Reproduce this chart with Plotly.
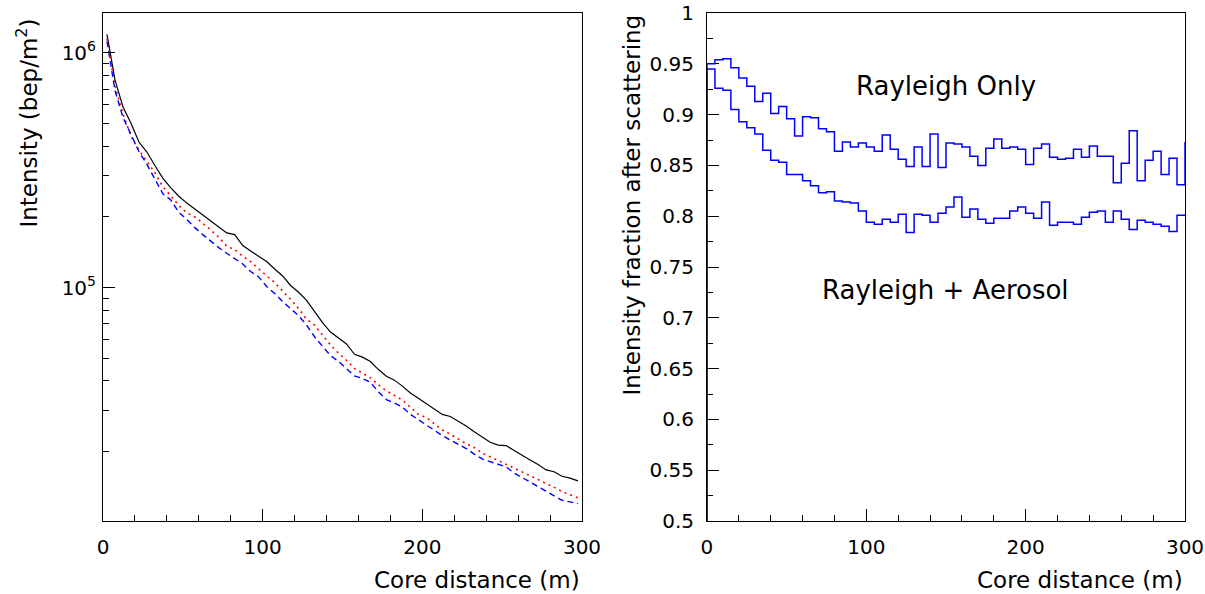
import numpy as np
import plotly.graph_objects as go

# ---------------- data ----------------
# Left panel: lateral intensity profile, 5 m bins (bin centres)
core_distance_m = np.arange(2.5, 300, 5)

intensity_total = [
    1.20e6, 7.67e5, 5.89e5, 5.01e5, 4.17e5, 3.78e5, 3.31e5, 2.92e5, 2.66e5, 2.45e5,
    2.29e5, 2.16e5, 2.04e5, 1.91e5, 1.80e5, 1.71e5, 1.68e5, 1.51e5, 1.43e5, 1.36e5,
    1.29e5, 1.20e5, 1.12e5, 1.02e5, 9.55e4, 8.81e4, 7.85e4, 7.08e4, 6.46e4, 6.10e4,
    5.75e4, 5.19e4, 5.05e4, 4.84e4, 4.47e4, 4.19e4, 4.03e4, 3.80e4, 3.55e4, 3.37e4,
    3.20e4, 3.02e4, 2.88e4, 2.82e4, 2.70e4, 2.57e4, 2.43e4, 2.30e4, 2.19e4, 2.13e4,
    2.12e4, 2.02e4, 1.92e4, 1.84e4, 1.76e4, 1.67e4, 1.64e4, 1.57e4, 1.54e4, 1.50e4,
]
intensity_rayleigh = [
    1.15e6, 7.24e5, 5.50e5, 4.42e5, 3.85e5, 3.47e5, 3.09e5, 2.69e5, 2.45e5, 2.24e5,
    2.08e5, 2.00e5, 1.88e5, 1.76e5, 1.64e5, 1.50e5, 1.45e5, 1.36e5, 1.29e5, 1.20e5,
    1.12e5, 1.05e5, 9.66e4, 8.91e4, 8.13e4, 7.33e4, 6.92e4, 6.31e4, 5.69e4, 5.25e4,
    4.90e4, 4.52e4, 4.32e4, 4.12e4, 3.85e4, 3.63e4, 3.47e4, 3.31e4, 3.09e4, 2.88e4,
    2.79e4, 2.63e4, 2.47e4, 2.37e4, 2.26e4, 2.16e4, 2.08e4, 1.97e4, 1.90e4, 1.83e4,
    1.77e4, 1.71e4, 1.64e4, 1.58e4, 1.52e4, 1.46e4, 1.41e4, 1.35e4, 1.31e4, 1.27e4,
]
intensity_aerosol = [
    1.12e6, 6.92e5, 5.31e5, 4.52e5, 3.80e5, 3.35e5, 2.92e5, 2.51e5, 2.36e5, 2.09e5,
    1.95e5, 1.80e5, 1.68e5, 1.57e5, 1.48e5, 1.40e5, 1.33e5, 1.26e5, 1.17e5, 1.11e5,
    1.01e5, 9.44e4, 8.71e4, 8.13e4, 7.59e4, 6.92e4, 6.17e4, 5.62e4, 5.13e4, 4.84e4,
    4.52e4, 4.20e4, 4.10e4, 3.94e4, 3.59e4, 3.33e4, 3.22e4, 3.09e4, 2.88e4, 2.73e4,
    2.60e4, 2.45e4, 2.34e4, 2.24e4, 2.14e4, 2.06e4, 1.95e4, 1.86e4, 1.81e4, 1.76e4,
    1.72e4, 1.62e4, 1.55e4, 1.48e4, 1.42e4, 1.35e4, 1.29e4, 1.24e4, 1.22e4, 1.20e4,
]

# Right panel: fraction histograms, 5 m bins (bin lower edges), last entry = next bin
bin_low_edges = list(range(0, 305, 5))
fraction_rayleigh_only = [
    0.950, 0.954, 0.955, 0.946, 0.936, 0.928, 0.913, 0.921, 0.901, 0.908,
    0.896, 0.879, 0.898, 0.897, 0.886, 0.883, 0.864, 0.873, 0.868, 0.872,
    0.868, 0.864, 0.880, 0.866, 0.856, 0.849, 0.868, 0.849, 0.881, 0.848,
    0.872, 0.871, 0.868, 0.859, 0.850, 0.867, 0.876, 0.867, 0.868, 0.866,
    0.851, 0.867, 0.871, 0.858, 0.856, 0.857, 0.866, 0.858, 0.869, 0.859,
    0.859, 0.833, 0.852, 0.884, 0.835, 0.855, 0.864, 0.841, 0.857, 0.831,
    0.873,
]
fraction_rayleigh_aerosol = [
    0.945, 0.926, 0.924, 0.905, 0.893, 0.887, 0.881, 0.865, 0.855, 0.853,
    0.841, 0.841, 0.835, 0.830, 0.823, 0.824, 0.815, 0.814, 0.813, 0.805,
    0.794, 0.792, 0.797, 0.794, 0.802, 0.784, 0.802, 0.801, 0.794, 0.803,
    0.809, 0.819, 0.799, 0.807, 0.797, 0.793, 0.798, 0.798, 0.805, 0.809,
    0.803, 0.798, 0.814, 0.791, 0.794, 0.794, 0.792, 0.799, 0.804, 0.805,
    0.794, 0.805, 0.797, 0.787, 0.796, 0.794, 0.792, 0.790, 0.785, 0.801,
    0.801,
]

x_tick_vals = [0, 100, 200, 300]
y_log_tick_vals = [1e5, 1e6]
y_log_tick_text = ["10<sup>5</sup>", "10<sup>6</sup>"]
y_frac_min, y_frac_max = 0.5, 1.0

# ---------------- figure ----------------
FONT = "DejaVu Sans"
fig = go.Figure()

fig.add_trace(go.Scatter(x=core_distance_m, y=intensity_total, mode="lines",
                         line=dict(color="black", width=1.2),
                         xaxis="x", yaxis="y", showlegend=False))
fig.add_trace(go.Scatter(x=core_distance_m, y=intensity_rayleigh, mode="lines",
                         line=dict(color="#ff0000", width=1.6, dash="2px,4px"),
                         xaxis="x", yaxis="y", showlegend=False))
fig.add_trace(go.Scatter(x=core_distance_m, y=intensity_aerosol, mode="lines",
                         line=dict(color="#0000ff", width=1.4, dash="6px,4px"),
                         xaxis="x", yaxis="y", showlegend=False))

for vals in (fraction_rayleigh_only, fraction_rayleigh_aerosol):
    hx = [bin_low_edges[0]] + bin_low_edges
    hy = [y_frac_min] + vals
    fig.add_trace(go.Scatter(x=hx, y=hy, mode="lines", line_shape="hv",
                             line=dict(color="#0000ff", width=1.5),
                             xaxis="x2", yaxis="y2", showlegend=False))

axis_common = dict(showline=True, linecolor="black", linewidth=1, mirror=True,
                   ticks="inside", tickcolor="black", ticklen=12, tickwidth=1,
                   showgrid=False, zeroline=False, automargin=False,
                   tickfont=dict(family=FONT, size=20, color="black"))

fig.update_layout(
    width=1205, height=594, autosize=False,
    margin=dict(l=103, r=20, t=13, b=73, pad=0, autoexpand=False),
    paper_bgcolor="white", plot_bgcolor="white",
    xaxis=dict(domain=[0, 0.4427], range=[0, 300], tickvals=x_tick_vals,
               minor=dict(dtick=20, ticks="inside", ticklen=6, tickcolor="black"),
               ticklabelstandoff=8, anchor="y", **axis_common),
    yaxis=dict(type="log", range=[4.005, 6.17], tickvals=y_log_tick_vals,
               ticktext=y_log_tick_text,
               minor=dict(tickvals=[m * 10 ** e for e in (4, 5) for m in range(2, 10)],
                          ticks="inside", ticklen=6, tickcolor="black"),
               ticklabelstandoff=2, anchor="x", **axis_common),
    xaxis2=dict(domain=[0.5582, 1], range=[0, 300], tickvals=x_tick_vals,
                minor=dict(dtick=20, ticks="inside", ticklen=6, tickcolor="black"),
                ticklabelstandoff=8, anchor="y2", layer="below traces", **axis_common),
    yaxis2=dict(range=[y_frac_min, y_frac_max], dtick=0.05, tick0=0.5,
                minor=dict(dtick=0.025, ticks="inside", ticklen=6, tickcolor="black"),
                ticklabelstandoff=8, anchor="x2", layer="below traces", **axis_common),
)

title_font = dict(family=FONT, size=23, color="black")
fig.add_annotation(text="Core distance (m)", xref="x domain", yref="paper",
                   x=1, y=-0.116, xanchor="right", yanchor="middle",
                   showarrow=False, font=title_font)
fig.add_annotation(text="Core distance (m)", xref="x2 domain", yref="paper",
                   x=1, y=-0.116, xanchor="right", yanchor="middle",
                   showarrow=False, font=title_font)
fig.add_annotation(text="Intensity (bep/m<sup>2</sup>)", xref="paper", yref="paper",
                   x=-0.0702, y=0.992, xanchor="center", yanchor="top",
                   textangle=-90, showarrow=False, font=title_font)
fig.add_annotation(text="Intensity fraction after scattering", xref="paper", yref="paper",
                   x=0.488, y=1.0, xanchor="center", yanchor="top",
                   textangle=-90, showarrow=False, font=title_font)

label_font = dict(family=FONT, size=26, color="black")
fig.add_annotation(text="Rayleigh Only", xref="x2", yref="y2", x=150, y=0.928,
                   showarrow=False, font=label_font)
fig.add_annotation(text="Rayleigh + Aerosol", xref="x2", yref="y2", x=150, y=0.7274,
                   showarrow=False, font=label_font)

fig.write_html("out.html",
               config={"displayModeBar": False},
               post_script="document.body.style.margin='0';"
                           "document.body.style.overflow='hidden';")
